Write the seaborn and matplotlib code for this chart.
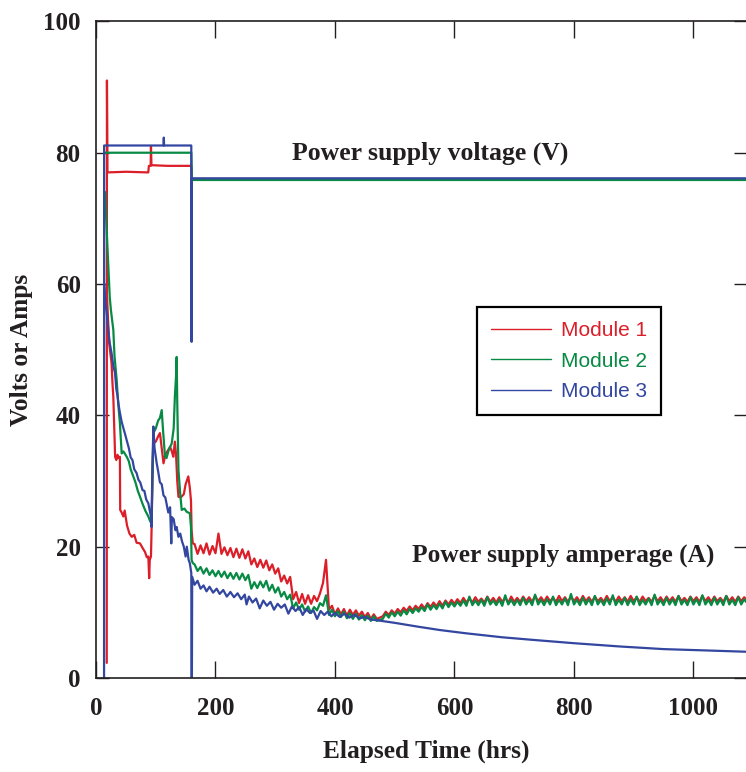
import numpy as np
import pandas as pd
import seaborn as sns
import matplotlib.pyplot as plt
from matplotlib.lines import Line2D

# ---------------- data ----------------
modules = ["Module 1", "Module 2", "Module 3"]
colors = ["#DC1E28", "#078A43", "#3346A0"]

# power supply voltage traces
volt_t_m1 = [18.0, 18.3, 18.8, 19.2, 50, 87.5, 88.5, 91.5, 92.0, 92.8, 120, 159.5, 160.5, 400, 700, 1088]
volt_v_m1 = [2.3, 91.0, 84.0, 77.0, 77.1, 77.0, 78.0, 78.0, 81.0, 78.1, 78.0, 78.0, 76.0, 76.0, 76.0, 76.0]

volt_t_m2 = [15.0, 60, 120, 159.5, 160.5, 500, 1088]
volt_v_m2 = [80.0, 80.0, 80.0, 80.0, 75.85, 75.85, 75.85]

volt_t_m3 = [13.5, 13.6, 60, 113, 113.5, 114, 159.5, 160.0, 160.3, 500, 1088]
volt_v_m3 = [0.0, 81.1, 81.1, 81.1, 82.3, 81.1, 81.1, 51.2, 76.1, 76.1, 76.1]

# sample times shared by the dense (noisy) parts of the amperage traces
mid_t = list(range(165, 471, 5))           # 165 ... 470
tail_t = list(range(480, 1086, 5)) + [1088]  # 480 ... 1085, 1088

# power supply amperage traces
amp_t_m1 = [18.5, 20, 22, 24, 26, 27.5, 29, 30.5, 32, 34, 36, 38, 40, 40.5, 43, 45.7, 48, 52, 56,
            59.8, 64, 68, 73.7, 78, 82, 85, 87.6, 89, 90, 92, 93, 95, 96, 100, 104, 107, 110, 113,
            116, 120, 124, 127, 129.4, 132, 134, 136, 138, 142, 147, 150, 154.5, 157, 159, 160,
            162] + mid_t + tail_t
amp_v_m1 = ([58, 55, 51, 49.5, 48, 45, 42.8, 38, 33.7, 33.2, 34, 33.5, 33.7, 25.6, 25.2, 24.6, 25.5, 23.2, 22.0,
             21.5, 21.8, 20.6, 20.5, 19.8, 19.2, 18.4, 18.5, 15.2, 18.0, 18.5, 22.5, 33.0, 35.7, 36.0, 36.8, 37.3,
             35.0, 32.7, 34.0, 34.6, 35.2, 34.5, 33.7, 36.0, 34.0, 30.0, 27.6, 27.5, 28.0, 29.5, 30.7, 29.0, 27.0,
             22.5, 20.5]
            # 165 - 470
            + [20.4, 18.9, 20.2, 19.0, 20.5, 18.8, 20.1, 19.0, 22.0, 18.9,
               19.9, 18.7, 19.8, 18.4, 19.7, 18.3, 19.6, 18.2, 19.3, 17.3,
               18.2, 16.9, 18.0, 16.8, 17.9, 16.4, 17.3, 15.9, 16.7, 14.7,
               15.6, 14.4, 15.4, 12.0, 13.1, 11.4, 12.8, 11.3, 12.6, 11.3,
               12.5, 11.7, 12.9, 14.5, 18.0, 10.4, 11.0, 9.7, 10.6, 9.7,
               10.5, 9.5, 10.4, 9.6, 10.3, 9.5, 10.1, 9.3, 9.9, 9.0,
               9.7, 9.0]
            # 480 - 1088
            + [9.4, 10.1, 9.6, 10.3, 9.8, 10.5, 10.0, 10.7, 10.2, 10.9, 10.3, 11.0, 10.5, 11.2, 10.6, 11.4,
               10.8, 11.5, 10.9, 11.7, 11.0, 11.8, 11.2, 11.9, 11.3,
               12.0, 11.4, 12.2, 11.5, 12.1, 11.5, 12.3, 11.6, 12.1, 11.5, 12.4, 11.6, 12.2, 11.5, 12.3, 11.6,
               12.2, 11.5, 12.4, 11.6,
               12.2, 11.6, 12.4, 11.7, 12.3, 11.6, 12.5, 11.7, 12.3, 11.6, 12.4, 11.7, 12.2, 11.6, 12.5, 11.7,
               12.3, 11.6, 12.4, 11.7,
               12.3, 11.6, 12.5, 11.7, 12.3, 11.6, 12.4, 11.7, 12.2, 11.6, 12.5, 11.7, 12.3, 11.6, 12.4, 11.7,
               12.3, 11.6, 12.5, 11.7,
               12.3, 11.6, 12.4, 11.7, 12.2, 11.6, 12.5, 11.7, 12.3, 11.6, 12.4, 11.7, 12.3, 11.6, 12.5, 11.7,
               12.2, 11.6, 12.4, 11.7,
               12.3, 11.6, 12.5, 11.7, 12.3, 11.6, 12.4, 11.7, 12.2, 11.6, 12.5, 11.7, 12.3, 11.6, 12.4, 11.7,
               12.3,
               12.0])

amp_t_m2 = [15.5, 17, 19, 21, 23, 25, 27, 29, 31, 34.6, 37, 40, 43, 46, 51.4, 55, 58, 62.5, 66, 70,
            73.7, 78, 83, 87.6, 91, 93, 95, 96, 100, 104, 107, 110, 112, 115.5, 118, 122, 126.7, 130,
            132, 134, 135, 136, 138, 141, 143.5, 148, 152, 157, 159, 160, 162] + mid_t + tail_t
amp_v_m2 = ([74, 70, 66, 62, 58, 56, 54.5, 53, 49, 45.4, 42, 38.8, 34.2, 34.5, 33.7, 33.0, 31.8, 30.7, 29.8, 28.5,
             27.6, 26.5, 25.4, 24.6, 23.8, 23.8, 33.0, 37.3, 38.0, 39.2, 39.6, 40.8, 38.0, 33.7, 33.5, 34.8, 35.7,
             38.0, 42.8, 46.0, 48.9, 42.0, 31.7, 28.0, 25.6, 25.8, 25.3, 25.1, 23.0, 18.0, 17.5]
            # 165 - 470
            + [17.3, 16.3, 16.9, 15.9, 16.7, 15.7, 16.4, 15.5, 16.3, 15.4,
               16.2, 15.2, 16.0, 15.1, 16.0, 15.0, 15.9, 14.9, 15.7, 13.6,
               14.6, 13.7, 14.7, 13.8, 14.8, 13.3, 14.2, 13.0, 13.8, 12.4,
               13.1, 12.0, 12.7, 10.6, 11.5, 10.4, 11.2, 10.1, 10.9, 9.9,
               10.8, 10.3, 11.4, 11.0, 12.6, 9.6, 10.4, 9.4, 10.2, 9.3,
               10.1, 9.1, 9.9, 9.0, 9.8, 8.9, 9.6, 8.8, 9.5, 8.7,
               9.4, 8.7]
            # 480 - 1088
            + [9.0, 9.8, 9.2, 10.0, 9.4, 10.1, 9.5, 10.3, 9.7, 10.5, 9.9, 10.6, 10.1, 10.8, 10.2, 11.2,
               10.4, 11.1, 10.5, 11.3, 10.6, 11.6, 10.8, 11.5, 10.9,
               11.6, 11.0, 11.8, 11.0, 12.4, 11.1, 11.8, 11.1, 11.9, 11.0, 12.3, 11.2, 11.8, 11.1, 11.9, 11.0,
               12.6, 11.2, 11.9, 11.1,
               11.9, 11.1, 12.2, 11.2, 11.9, 11.1, 12.7, 11.2, 11.9, 11.1, 12.0, 11.2, 12.4, 11.1, 11.9, 11.2,
               12.1, 11.1, 12.8, 11.2,
               11.9, 11.1, 12.2, 11.2, 12.0, 11.1, 12.5, 11.2, 11.9, 11.1, 12.1, 11.2, 12.6, 11.1, 11.9, 11.2,
               12.2, 11.1, 12.0, 11.2,
               12.4, 11.1, 11.9, 11.2, 12.1, 11.1, 12.7, 11.2, 11.9, 11.1, 12.2, 11.2, 12.0, 11.1, 12.5, 11.2,
               11.9, 11.1, 12.3, 11.2,
               12.0, 11.1, 12.6, 11.2, 11.9, 11.1, 12.2, 11.2, 12.0, 11.1, 12.5, 11.2, 11.9, 11.1, 12.3, 11.2,
               12.0,
               11.6])

amp_t_m3 = [14, 16, 18, 20.6, 23, 26, 29, 31.8, 34, 36, 38, 40, 43, 46, 48.5, 51.4, 55, 58, 61, 64, 68,
            71, 74, 78, 81, 84, 87.6, 90, 92, 93, 94, 96, 98, 101.6, 104, 107, 110, 113, 116, 118, 121,
            124, 126, 127, 130, 133, 135, 138, 141, 144, 147, 150, 152, 155, 157, 159.5, 160, 160.5,
            161, 165, 170, 175, 180, 185, 190, 196, 202, 207, 213, 219, 225, 231, 237, 243, 249, 252,
            256, 262, 268, 274, 280, 286, 292, 298, 304, 310, 316, 322, 328, 334, 340, 346, 352, 358,
            364, 370, 376, 382, 388, 394, 400, 408, 416, 424, 432, 442, 450, 460, 470,
            500, 540, 576, 620, 680, 732, 800, 877, 950, 1020, 1088]
amp_v_m3 = [60, 57, 55.5, 53, 51, 49.5, 47.5, 46.5, 44, 43, 41.5, 40.4, 39, 38, 37.2, 36.2, 35, 33.6, 33.2, 31.8, 31.2,
            30.2, 29.8, 28.6, 28.5, 27.2, 26.6, 25.5, 24.6, 23.0, 30.0, 38.3, 35.0, 32.7, 31.5, 29.8, 29.5, 27.8, 27.5,
            26.6, 25.2, 26.0, 20.5, 24.5, 24.2, 22.5, 23.0, 21.5, 22.0, 20.8, 20.0, 18.5, 20.0, 18.0, 17.5, 16.0, 0.0,
            0.0, 15.4, 14.2, 14.8, 13.6, 14.1, 13.2, 13.9, 13.0, 13.6, 12.8, 13.4, 12.4, 13.1, 12.3, 12.9, 12.0, 12.7,
            11.2, 12.4, 11.5, 12.1, 10.6, 11.8, 11.0, 11.6, 10.4, 11.3, 10.7, 11.2, 9.8, 10.9, 10.2, 10.8, 9.6, 10.5,
            9.9, 10.3, 9.0, 10.2, 9.6, 10.1, 9.4, 9.9, 9.3, 9.8, 9.2, 9.6, 9.1, 9.3, 8.9, 8.8,
            8.4, 7.8, 7.3, 6.8, 6.2, 5.8, 5.3, 4.8, 4.4, 4.2, 4.0]

x_ticks = [0, 200, 400, 600, 800, 1000]
y_ticks = [0, 20, 40, 60, 80, 100]

# ---------------- build long table ----------------
series = [
    ("Module 1", "V", volt_t_m1, volt_v_m1), ("Module 1", "A", amp_t_m1, amp_v_m1),
    ("Module 2", "V", volt_t_m2, volt_v_m2), ("Module 2", "A", amp_t_m2, amp_v_m2),
    ("Module 3", "V", volt_t_m3, volt_v_m3), ("Module 3", "A", amp_t_m3, amp_v_m3),
]
frames = []
for m, q, t, v in series:
    frames.append(pd.DataFrame({"time": t, "value": v, "module": m, "trace": f"{m}-{q}"}))
df = pd.concat(frames, ignore_index=True)

# ---------------- figure ----------------
sns.set_theme(style="ticks")
plt.rcParams["font.family"] = ["Liberation Serif", "DejaVu Serif"]
ink = "#231F20"

fig = plt.figure(figsize=(7.46, 7.72), dpi=100)
ax = fig.add_axes([96 / 746, 94 / 772, 650 / 746, 656.6 / 772])

sns.lineplot(data=df, x="time", y="value", hue="module", units="trace", estimator=None,
             sort=False, palette=dict(zip(modules, colors)), hue_order=modules,
             linewidth=1.6, legend=False, ax=ax)

ax.set_xlim(0, 1088)
ax.set_ylim(0, 100)
ax.set_xticks(x_ticks)
ax.set_yticks(y_ticks)
ax.set_xticklabels([str(v) for v in x_ticks], fontsize=18, fontweight="bold", color=ink)
ax.set_yticklabels([str(v) for v in y_ticks], fontsize=18, fontweight="bold", color=ink)

ax.tick_params(axis="x", direction="in", length=12, width=1.0, top=True, pad=14, color=ink)
ax.tick_params(axis="y", direction="in", length=9, width=1.0, right=True, pad=11, color=ink)
for s in ["left", "bottom", "top"]:
    ax.spines[s].set_color(ink)
    ax.spines[s].set_linewidth(1.2)
ax.spines["right"].set_visible(False)

ax.set_xlabel("Elapsed Time (hrs)", fontsize=18.3, fontweight="bold", color=ink)
ax.set_ylabel("Volts or Amps", fontsize=18.3, fontweight="bold", color=ink)
ax.xaxis.set_label_coords(0.508, -0.094)
ax.yaxis.set_label_coords(-0.097, 0.5)

ax.text(327.6, 79.0, "Power supply voltage (V)", fontsize=18.5, fontweight="bold",
        color=ink, va="baseline", ha="left")
ax.text(529, 17.7, "Power supply amperage (A)", fontsize=18.3, fontweight="bold",
        color=ink, va="baseline", ha="left")

handles = [Line2D([0], [0], color=c, lw=1.0) for c in colors]
leg = ax.legend(handles, modules, loc="upper left", bbox_to_anchor=(0.586, 0.565),
                frameon=True, fancybox=False, framealpha=1, edgecolor="black",
                prop={"family": "Liberation Sans", "size": 15}, labelcolor=colors,
                handlelength=2.9, handletextpad=0.45, labelspacing=0.55,
                borderpad=0.68, borderaxespad=0)
leg.get_frame().set_linewidth(1.6)

fig.savefig("out.png", dpi=100)
